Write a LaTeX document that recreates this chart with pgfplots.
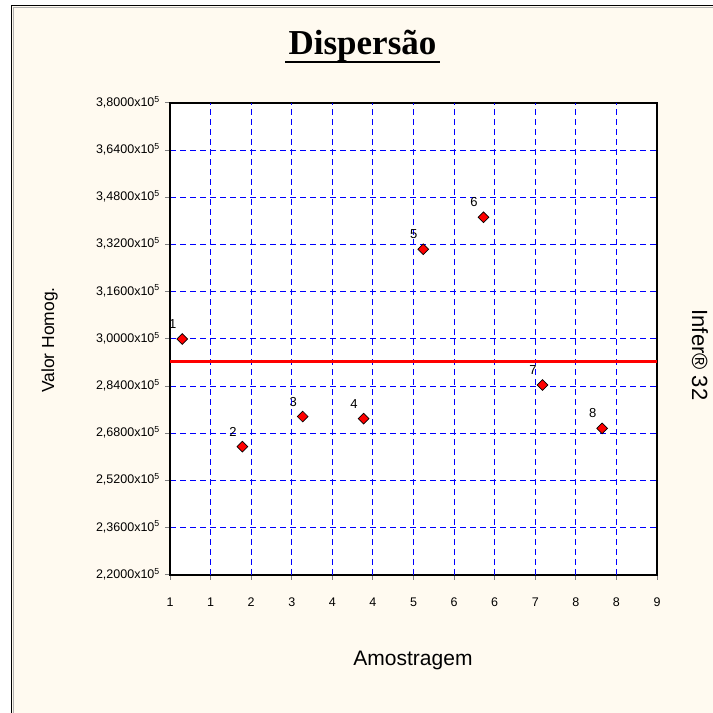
\documentclass[border=0pt]{standalone}
\usepackage{pgfplots}
\pgfplotsset{compat=1.18}
\usepackage{fontspec}
\setmainfont{Liberation Sans}
\newfontfamily\titlefont{Liberation Serif}
\definecolor{cream}{RGB}{255,250,240}
\definecolor{gridblue}{RGB}{0,0,255}
\begin{document}
\begin{tikzpicture}
\path[use as bounding box] (0,0) rectangle (713pt,713pt);
\fill[white] (0,0) rectangle (713pt,713pt);
\fill[cream] (12pt,0) rectangle (713pt,707pt);
\draw[black, line width=1.6pt] (11.6pt,0) -- (11.6pt,707.4pt) -- (713pt,707.4pt);
\draw[gray!60, line width=0.8pt] (13.4pt,0) -- (13.4pt,705.6pt) -- (713pt,705.6pt);
\node[anchor=base, font=\titlefont\bfseries\fontsize{35pt}{35pt}\selectfont, inner sep=0pt] at (362.5pt,658pt) {Dispersão};
\draw[black, line width=2.6pt] (285pt,651pt) -- (440pt,651pt);
\node[anchor=base, rotate=90, font=\fontsize{17.5pt}{17.5pt}\selectfont, inner sep=0pt] at (54pt,373pt) {Valor Homog.};
\node[anchor=base, font=\fontsize{21pt}{21pt}\selectfont, inner sep=0pt] at (413pt,47pt) {Amostragem};
\node[anchor=base, rotate=-90, font=\fontsize{22pt}{22pt}\selectfont, inner sep=0pt] at (692pt,358pt) {Infer® 32};
\begin{axis}[
  at={(170pt,138pt)}, anchor=south west,
  scale only axis, width=487pt, height=472pt,
  xmin=1, xmax=9, ymin=2.2, ymax=3.8,
  axis background/.style={fill=white},
  axis line style={black, line width=1.6pt},
  tick align=outside, tick pos=left,
  major tick length=5pt,
  tick style={line width=1pt},
  ymajorgrids,
  major grid style={draw=gridblue, dash pattern=on 6pt off 4pt, line width=1pt},
  xtick={1,1.6667,2.3333,3,3.6667,4.3333,5,5.6667,6.3333,7,7.6667,8.3333,9},
  xticklabels={1,1,2,3,4,4,5,6,6,7,8,8,9},
  ytick={2.2,2.36,2.52,2.68,2.84,3.0,3.16,3.32,3.48,3.64,3.8},
  yticklabels={{2,2000x10\textsuperscript{5}},{2,3600x10\textsuperscript{5}},{2,5200x10\textsuperscript{5}},{2,6800x10\textsuperscript{5}},{2,8400x10\textsuperscript{5}},{3,0000x10\textsuperscript{5}},{3,1600x10\textsuperscript{5}},{3,3200x10\textsuperscript{5}},{3,4800x10\textsuperscript{5}},{3,6400x10\textsuperscript{5}},{3,8000x10\textsuperscript{5}}},
  yticklabel style={font=\fontsize{12.5pt}{12.5pt}\selectfont, anchor=east, inner sep=0pt, xshift=-5pt, yshift=1pt},
  xticklabel style={font=\fontsize{12.5pt}{12.5pt}\selectfont, anchor=north, inner sep=0pt, yshift=-18pt},
  clip=false,
]
\pgfplotsinvokeforeach{1.6667,2.3333,3,3.6667,4.3333,5,5.6667,6.3333,7,7.6667,8.3333}{
  \addplot[draw=gridblue, dash pattern=on 6pt off 4pt, line width=1pt, forget plot] coordinates {(#1,2.2) (#1,3.8)};
}
\addplot[red, line width=3pt, forget plot] coordinates {(1,2.923) (9,2.923)};
\addplot[only marks, mark=square*, mark size=3.8pt,
  mark options={rotate=45, fill=red, draw=black, line width=0.7pt},
  point meta=explicit symbolic,
  nodes near coords,
  nodes near coords style={font=\fontsize{13pt}{13pt}\selectfont, anchor=center, inner sep=0pt, xshift=-9.5pt, yshift=15pt, black}]
table[meta=lab] {
x y lab
1.20 3.000 1
2.19 2.635 2
3.18 2.737 3
4.18 2.730 4
5.16 3.304 5
6.15 3.4125 6
7.12 2.844 7
8.10 2.697 8
};
\end{axis}
\end{tikzpicture}
\end{document}
